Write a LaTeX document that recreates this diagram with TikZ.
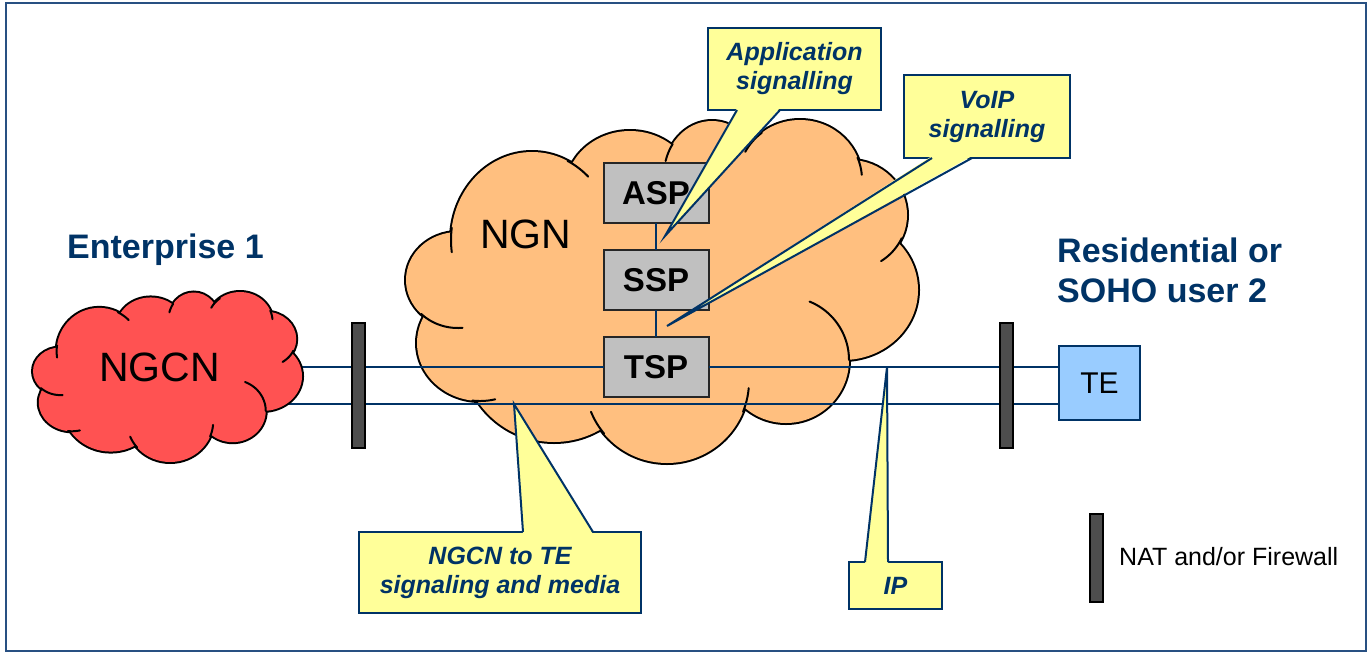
\documentclass[tikz,border=0pt]{standalone}
\usepackage{fontspec}
\setmainfont{Liberation Sans}
\usetikzlibrary{calc}
\definecolor{navy}{RGB}{0,51,102}
\definecolor{framecol}{RGB}{40,80,130}
\definecolor{ngnfill}{RGB}{255,191,127}
\definecolor{ngcnfill}{RGB}{255,82,82}
\definecolor{tefill}{RGB}{153,204,255}
\definecolor{callfill}{RGB}{255,255,153}
\definecolor{spgray}{RGB}{192,192,192}
\definecolor{fwgray}{RGB}{77,77,77}

\tikzset{
  % bumps of the cloud outline, given in the frame of the NGN cloud
  cloudpath/.style={insert path={
    (532,240) ellipse[x radius=81,y radius=88]
    (630,191) ellipse[x radius=65,y radius=60]
    (712,175) ellipse[x radius=48,y radius=54]
    (800,180) ellipse[x radius=62,y radius=60]
    (850,215) ellipse[x radius=57,y radius=55]
    (843,290) ellipse[x radius=75,y radius=70]
    (786,360) ellipse[x radius=63,y radius=63]
    (667,381) ellipse[x radius=82,y radius=82]
    (554,350) ellipse[x radius=92,y radius=92]
    (480,343) ellipse[x radius=63,y radius=58]
    (458,280) ellipse[x radius=52,y radius=48]
  }},
  cloudedge/.style={draw=black,line width=2pt,line cap=round},
}

% one inner fold of a cloud: centre, radii, angle range
\newcommand\cloudfold[6]{%
  \draw[cloudedge] plot[domain=#5:#6,samples=24,smooth,variable=\t]
    ({#1+#3*cos(\t)},{#2+#4*sin(\t)});}

% complete cloud in the NGN frame, filled with colour #1
\newcommand\drawcloud[1]{%
  \path[draw=black,line width=4pt,cloudpath];
  \path[fill=#1,cloudpath] (660,290) ellipse[x radius=200,y radius=120];
  \cloudfold{458}{280}{52}{48}{85}{135}
  \cloudfold{480}{343}{63}{58}{76}{97}
  \cloudfold{667}{381}{82}{82}{140}{158}
  \cloudfold{667}{381}{82}{82}{5}{22}
  \cloudfold{786}{360}{63}{63}{-68}{0}
  \cloudfold{850}{215}{57}{55}{25}{57}
  \cloudfold{800}{180}{62}{60}{-22}{-5}
  \cloudfold{800}{180}{62}{60}{-152}{-128}
  \cloudfold{712}{175}{48}{54}{-165}{-145}
  \cloudfold{532}{240}{81}{88}{-64}{-46}
  \cloudfold{532}{240}{81}{88}{172}{188}}

\begin{document}
\begin{tikzpicture}[x=1pt,y=-1pt,
  link/.style={draw=navy,line width=2pt},
  spbox/.style={draw=black!85,line width=2pt,fill=spgray,minimum width=105pt,
    minimum height=60pt,inner sep=0pt,outer sep=0pt,
    font=\fontsize{33}{33}\selectfont\bfseries},
  tebox/.style={draw=navy,line width=2pt,fill=tefill,minimum width=81pt,
    minimum height=74pt,inner sep=0pt,outer sep=0pt,
    font=\fontsize{30}{30}\selectfont},
  fwbar/.style={draw=black,line width=1.5pt,fill=fwgray,minimum width=13pt,
    minimum height=125pt,inner sep=0pt},
  callout/.style={draw=navy,line width=2pt,fill=callfill,inner sep=0pt,
    outer sep=0pt,align=center,text=navy,
    font=\fontsize{25}{29}\selectfont\bfseries\itshape},
  pointeredge/.style={draw=navy,line width=2pt,line join=miter},
  heading/.style={text=navy,inner sep=0pt,
    font=\fontsize{34}{40}\selectfont\bfseries},
  plain/.style={inner sep=0pt,text=black},
]
\useasboundingbox (0,0) rectangle (1372,654);
\draw[framecol,line width=2pt] (6,3) rectangle (1366,651);

% NGN cloud
\drawcloud{ngnfill}
\node[plain,anchor=base west,font=\fontsize{41}{49}\selectfont] (ngnlabel) at (480,248) {NGN};

% service platforms
\node[spbox] (asp) at (656,193) {ASP};
\node[spbox] (ssp) at (656,280) {SSP};
\node[spbox] (tsp) at (656,367) {TSP};
\draw[link] (asp) -- (ssp);
\draw[link] (ssp) -- (tsp);

% terminal equipment
\node[tebox] (te) at (1099.5,383) {TE};

% links between the enterprise network and the terminal
\coordinate (rowA) at (0,367);
\coordinate (rowB) at (0,404);
\coordinate (ngcnA) at (250,367);
\coordinate (ngcnB) at (250,404);
\draw[link] (ngcnA) -- (tsp.west);
\draw[link] (tsp.east) -- (te.west |- rowA);
\draw[link] (ngcnB) -- (te.west |- rowB);

% enterprise cloud
\begin{scope}[shift={(33,292)},xscale=0.5254,yscale=0.4956,shift={(-406,-120)}]
  \drawcloud{ngcnfill}
\end{scope}
\node[plain,anchor=base west,font=\fontsize{41}{49}\selectfont] (ngcnlabel) at (99,381) {NGCN};

% NAT / firewall bars
\node[fwbar] (fwleft) at (358.5,385.5) {};
\node[fwbar] (fwright) at (1006.5,385.5) {};
\node[fwbar,minimum height=88pt] (fwkey) at (1096.5,558) {};
\node[plain,anchor=base west,font=\fontsize{25}{30}\selectfont] (fwtext) at (1119,565) {NAT and/or Firewall};

% headings
\node[heading,anchor=base west] (ent) at (67,258) {Enterprise 1};
\node[heading,anchor=north west,align=left] (res) at (1057,237.5) {Residential or\\SOHO user 2};

% callouts
\node[callout,minimum width=173pt,minimum height=82pt] (app) at (794.5,69) {Application\\signalling};
\coordinate (appTip) at (665,236);
\fill[callfill] ($(app.south west)+(29,-2)$) -- (appTip) -- ($(app.south west)+(72,-2)$) -- cycle;
\draw[pointeredge] ($(app.south west)+(29,0)$) -- (appTip) -- ($(app.south west)+(72,0)$);

\node[callout,minimum width=166pt,minimum height=83pt] (voip) at (987,116.5) {VoIP\\signalling};
\coordinate (voipTip) at (667,326);
\fill[callfill] ($(voip.south west)+(28,-2)$) -- (voipTip) -- ($(voip.south west)+(68,-2)$) -- cycle;
\draw[pointeredge] ($(voip.south west)+(28,0)$) -- (voipTip) -- ($(voip.south west)+(68,0)$);

\node[callout,minimum width=282pt,minimum height=81pt] (media) at (500,572.5) {NGCN to TE\\signaling and media};
\coordinate (mediaTip) at (514,404);
\fill[callfill] ($(media.north west)+(164,2)$) -- (mediaTip) -- ($(media.north west)+(234,2)$) -- cycle;
\draw[pointeredge] ($(media.north west)+(164,0)$) -- (mediaTip) -- ($(media.north west)+(234,0)$);

\node[callout,minimum width=93pt,minimum height=47pt] (ip) at (895.5,585.5) {IP};
\coordinate (ipTip) at (887,367);
\fill[callfill] ($(ip.north west)+(16,2)$) -- (ipTip) -- ($(ip.north west)+(39,2)$) -- cycle;
\draw[pointeredge] ($(ip.north west)+(16,0)$) -- (ipTip) -- ($(ip.north west)+(39,0)$);
\end{tikzpicture}
\end{document}
